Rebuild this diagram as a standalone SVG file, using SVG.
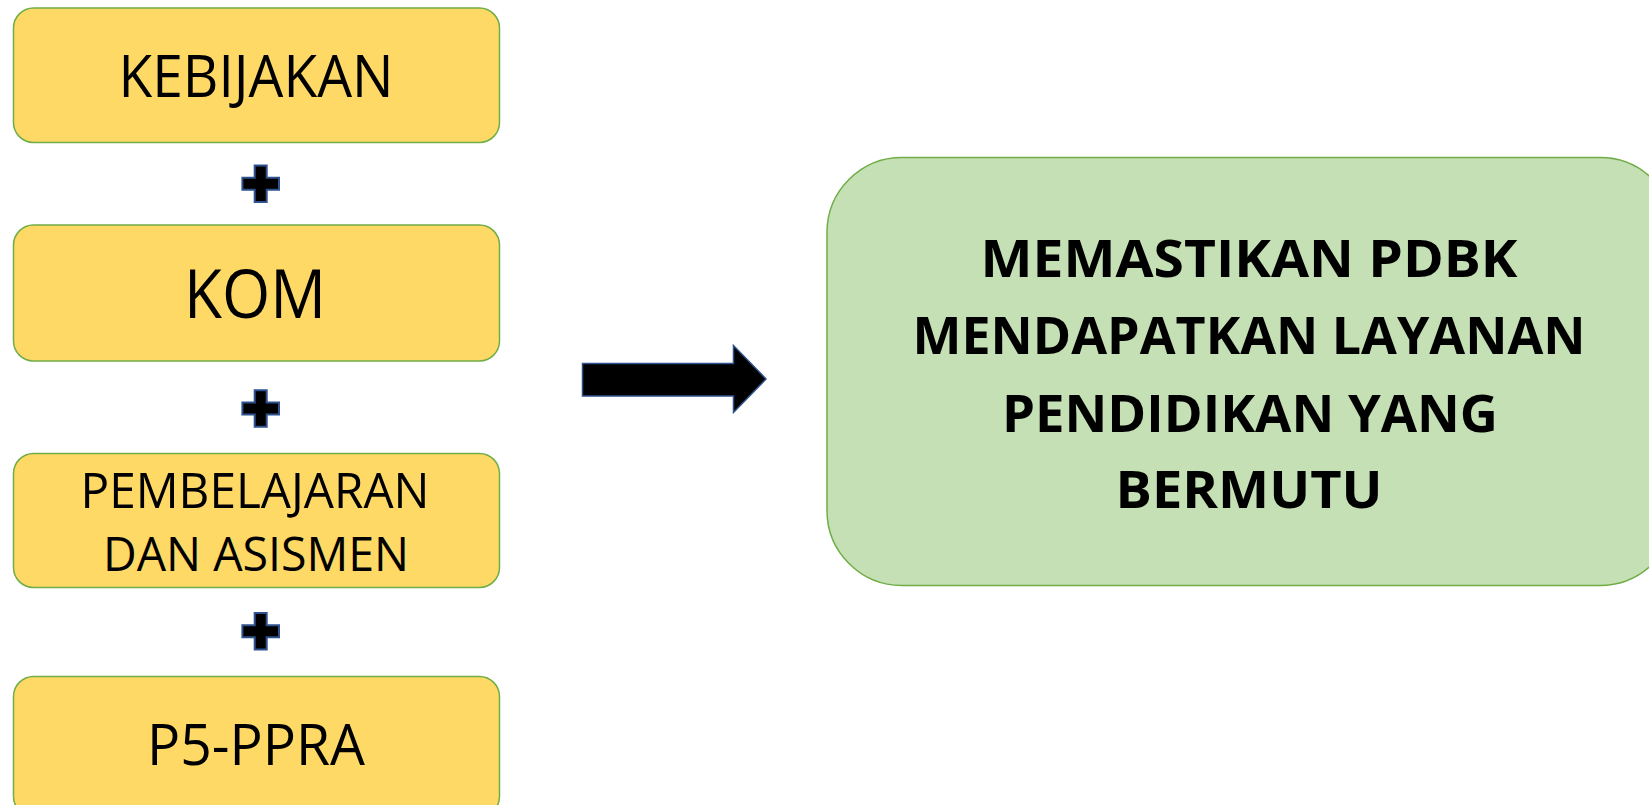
<svg xmlns="http://www.w3.org/2000/svg" width="1649" height="805" viewBox="0 0 1649 805">
<style>
.ybox{fill:#FFD966;stroke:#70AD47;stroke-width:1.5}
.gbox{fill:#C5E0B4;stroke:#70AD47;stroke-width:1.5}
.lt{font-family:"Open Sans","Liberation Sans",sans-serif;fill:#000;text-anchor:middle}
.bt{font-family:"Open Sans","Liberation Sans",sans-serif;font-weight:bold;fill:#000;text-anchor:middle;font-size:52px}
.plus{fill:#000;stroke:#2F528F;stroke-width:2}
</style>
<defs>
<path id="plusShape" class="plus" d="M-6,-18.3 H6 V-6 H18.3 V6 H6 V18.3 H-6 V6 H-18.3 V-6 H-6 Z"/>
</defs>
<rect width="1649" height="805" fill="#fff"/>
<g id="kebijakan">
<rect class="ybox" x="13.5" y="8" width="486" height="134.5" rx="20"/>
<text class="lt" x="256" y="97" font-size="58" textLength="275" lengthAdjust="spacingAndGlyphs">KEBIJAKAN</text>
</g>
<g id="plus1"><use href="#plusShape" x="260.7" y="183.7"/></g>
<g id="kom">
<rect class="ybox" x="13.5" y="225" width="486" height="136" rx="20"/>
<text class="lt" x="255" y="318" font-size="67" textLength="142" lengthAdjust="spacingAndGlyphs">KOM</text>
</g>
<g id="plus2"><use href="#plusShape" x="260.7" y="408.5"/></g>
<g id="pembelajaran">
<rect class="ybox" x="13.5" y="453.5" width="486" height="134" rx="20"/>
<text class="lt" x="255" y="508" font-size="49" textLength="349" lengthAdjust="spacingAndGlyphs">PEMBELAJARAN</text>
<text class="lt" x="256" y="571" font-size="48" textLength="306" lengthAdjust="spacingAndGlyphs">DAN ASISMEN</text>
</g>
<g id="plus3"><use href="#plusShape" x="260.7" y="631.2"/></g>
<g id="p5ppra">
<rect class="ybox" x="13.5" y="676.5" width="486" height="140" rx="20"/>
<text class="lt" x="256" y="765" font-size="56" textLength="218" lengthAdjust="spacingAndGlyphs">P5-PPRA</text>
</g>
<g id="connectors">
<path d="M582.5,363.5 H733.5 V345.5 L766,379 L733.5,412.5 V395.9 H582.5 Z" fill="#000" stroke="#2F528F" stroke-width="1.5"/>
</g>
<g id="result">
<rect class="gbox" x="827" y="157.5" width="848" height="428" rx="75"/>
<text class="bt" x="1249" y="277" textLength="537" lengthAdjust="spacingAndGlyphs">MEMASTIKAN PDBK</text>
<text class="bt" x="1249" y="354" textLength="673" lengthAdjust="spacingAndGlyphs">MENDAPATKAN LAYANAN</text>
<text class="bt" x="1250" y="432" textLength="496" lengthAdjust="spacingAndGlyphs">PENDIDIKAN YANG</text>
<text class="bt" x="1249" y="508" textLength="267" lengthAdjust="spacingAndGlyphs">BERMUTU</text>
</g>
</svg>
